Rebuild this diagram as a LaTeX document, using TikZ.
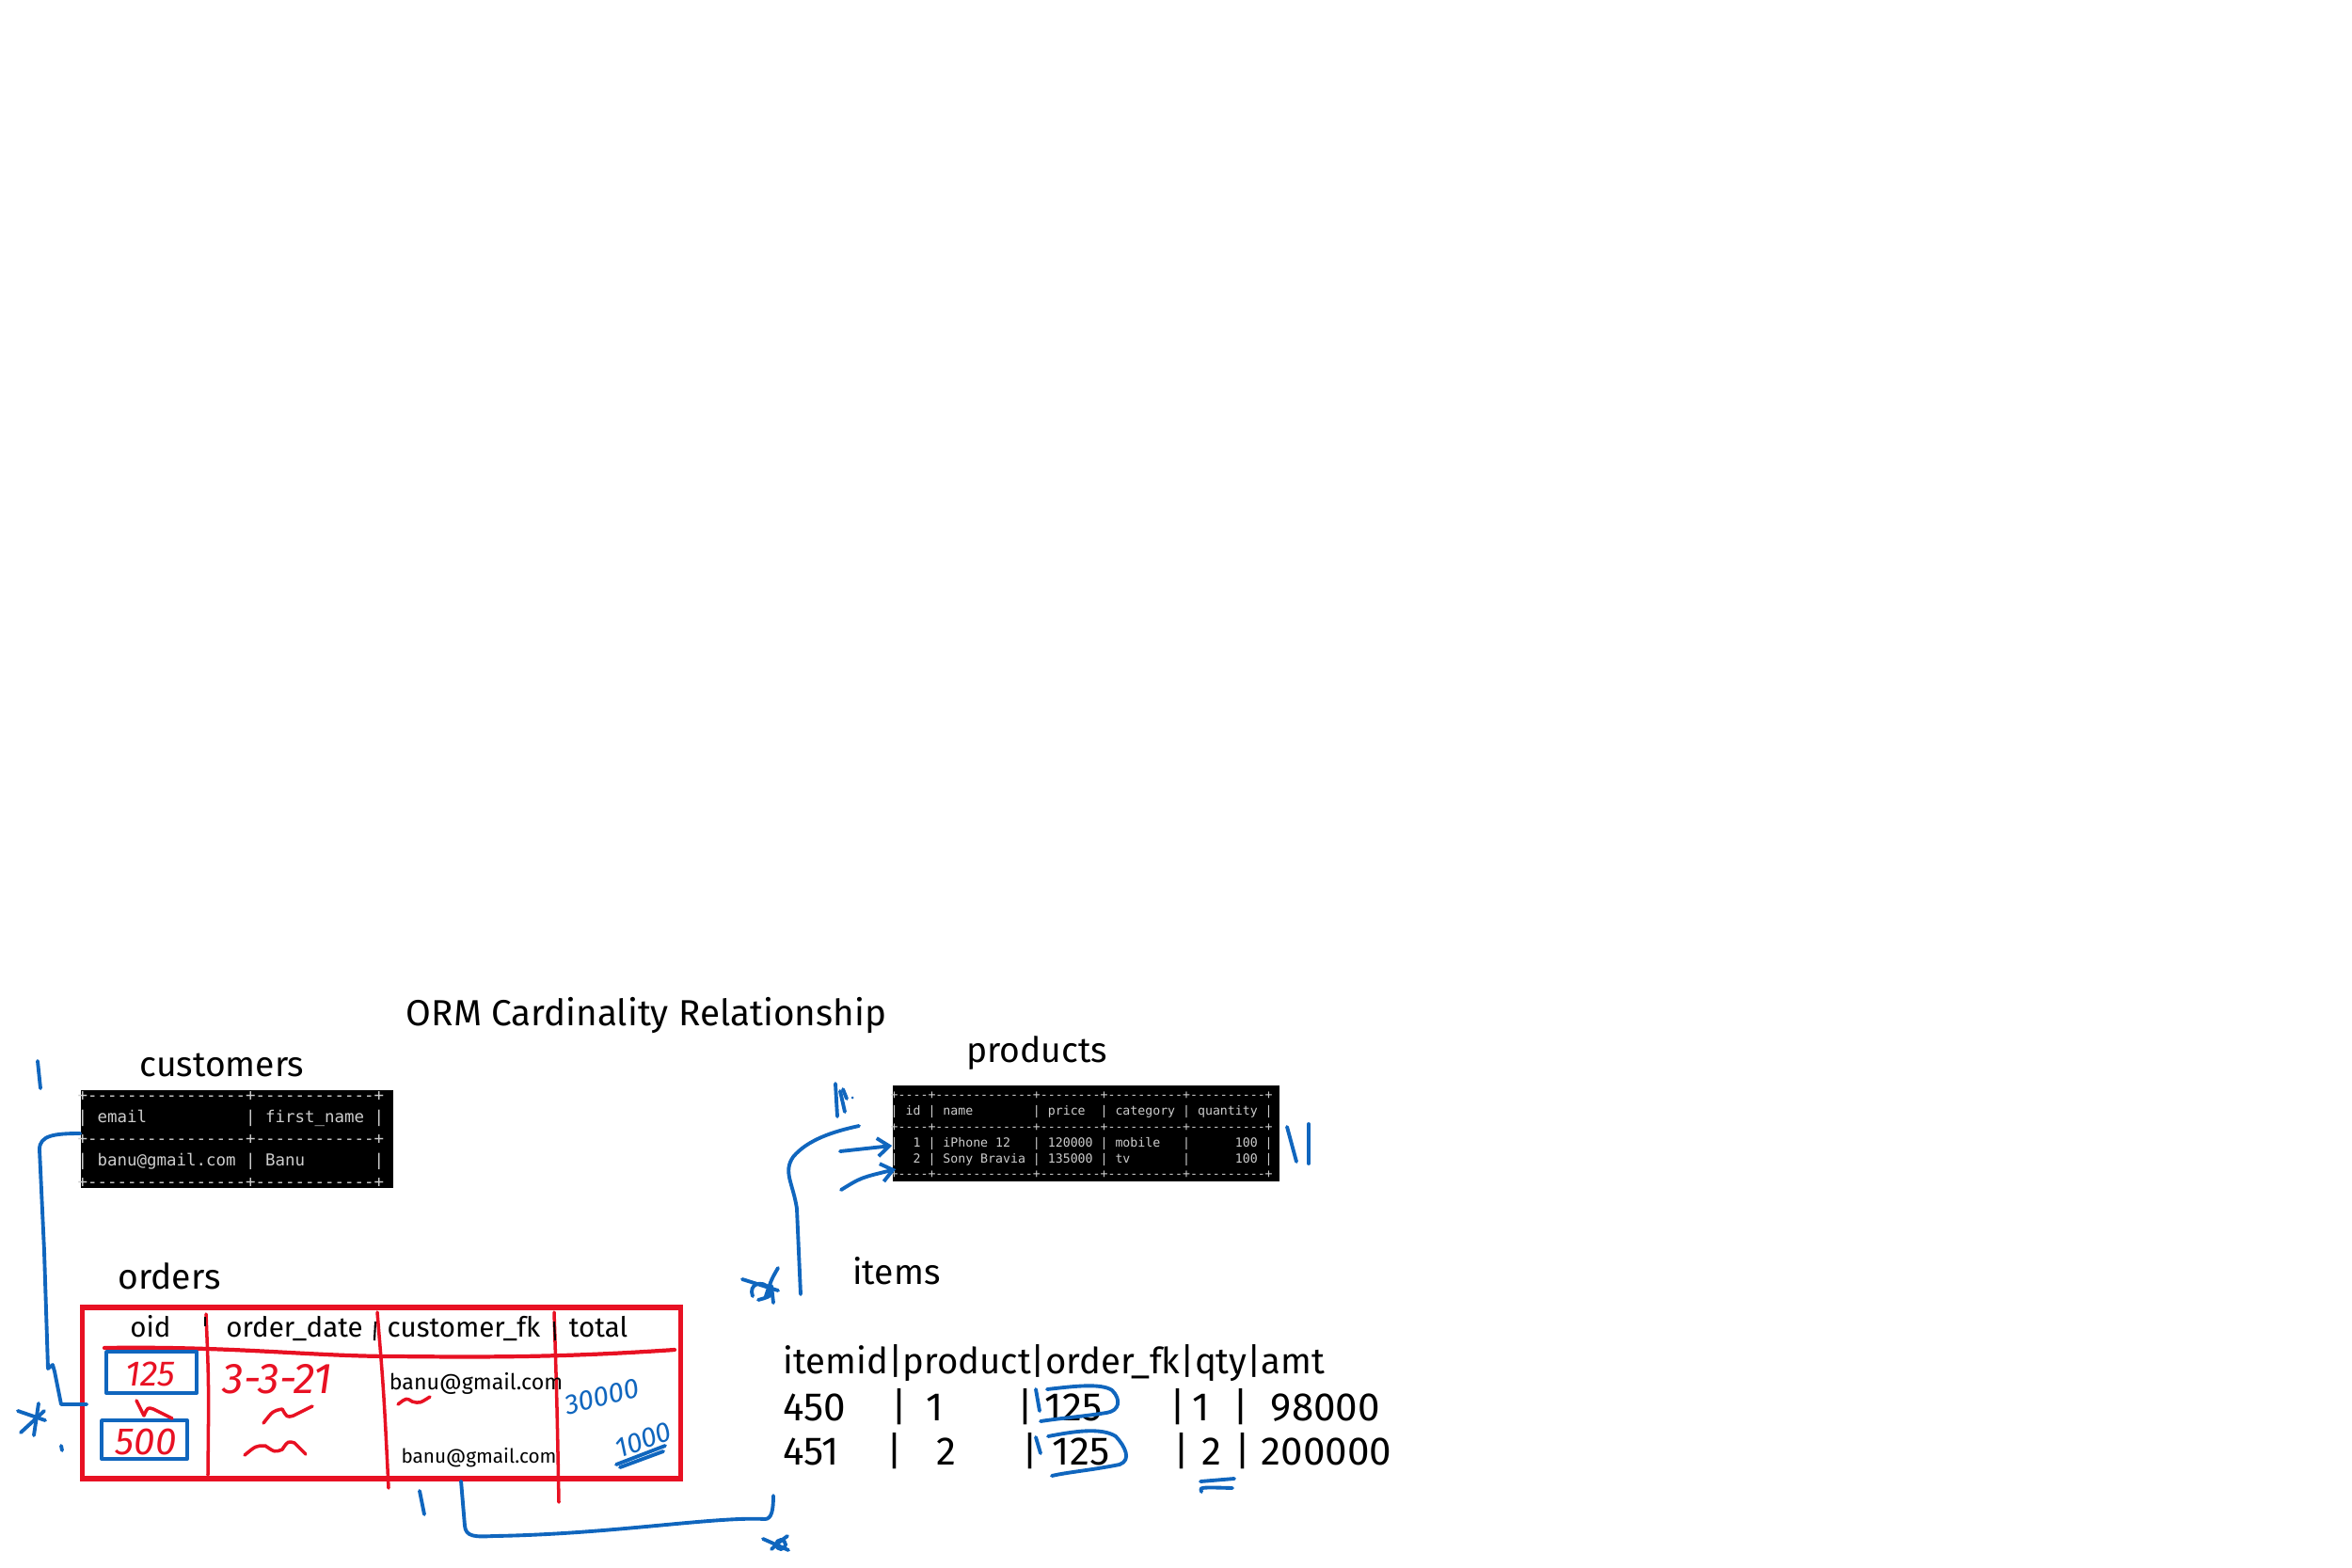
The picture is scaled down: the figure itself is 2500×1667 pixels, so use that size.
\documentclass[tikz,border=0pt]{standalone}
\usepackage{fontspec}
\setmonofont{DejaVu Sans Mono}
\newfontfamily\hand{Fira Sans}
\usetikzlibrary{arrows.meta,calc}
\definecolor{penblue}{RGB}{16,102,190}
\definecolor{inkred}{RGB}{232,17,35}
\definecolor{termgrey}{RGB}{205,205,205}
\newcommand{\hfs}[1]{\hand\fontsize{#1}{#1}\selectfont}
\begin{document}
\begin{tikzpicture}[x=0.01cm,y=-0.01cm,
  heading/.style={inner sep=0,anchor=base,font=\hfs{10.6}},
  colhead/.style={inner sep=0,anchor=base,font=\hfs{8.4}},
  cell/.style={inner sep=0,anchor=base,font=\hfs{12}},
  termtext/.style={inner sep=0,anchor=west,align=left,text=termgrey},
  termbox/.style={fill=black,draw=none,inner sep=0},
  redline/.style={draw=inkred,line width=1pt,line cap=round,line join=round},
  bluepen/.style={draw=penblue,line width=1.1pt,line cap=round,line join=round},
  redscrawl/.style={inner sep=0,text=inkred,font=\hfs{11.5}\itshape},
  bluescrawl/.style={inner sep=0,text=penblue,font=\hfs{8.4}\itshape},
  barb/.style={-{Straight Barb[length=3.5pt,width=5.5pt]}},
]
\useasboundingbox (0,0) rectangle (2500,1667);
\fill[white] (0,0) rectangle (2500,1667);

% ---------- title and headings ----------
\node[heading,font=\hfs{11}] (title) at (687,1090) {ORM Cardinality Relationship};
\node[heading] (custlbl) at (236,1144) {customers};
\node[heading] (ordlbl) at (180,1370) {orders};
\node[heading] (prodlbl) at (1102,1129) {products};
\node[heading] (itemlbl) at (953,1365) {items};

% ---------- customers terminal table ----------
\node[termbox,minimum width=3.32cm,minimum height=1.04cm] (cust) at (252,1211) {};
\node[termtext,font=\ttfamily\fontsize{4.96}{6.47}\selectfont] (custtxt) at (82,1211.5)
{+----------------+------------+\\
|~email~~~~~~~~~~|~first\_name~|\\
+----------------+------------+\\
|~banu@gmail.com~|~Banu~~~~~~~|\\
+----------------+------------+};

% ---------- products terminal table ----------
\node[termbox,minimum width=4.11cm,minimum height=1.02cm] (prod) at (1154.5,1205) {};
\node[termtext,font=\ttfamily\fontsize{3.76}{4.78}\selectfont] (prodtxt) at (946,1207)
{+----+-------------+--------+----------+----------+\\
|~id~|~name~~~~~~~~|~price~~|~category~|~quantity~|\\
+----+-------------+--------+----------+----------+\\
|~~1~|~iPhone~12~~~|~120000~|~mobile~~~|~~~~~~100~|\\
|~~2~|~Sony~Bravia~|~135000~|~tv~~~~~~~|~~~~~~100~|\\
+----+-------------+--------+----------+----------+};

% ---------- orders hand-drawn table ----------
\node[draw=inkred,line width=1.5pt,inner sep=0,minimum width=6.35cm,minimum height=1.82cm] (orders) at (405.5,1481) {};
\draw[redline] (219,1397) .. controls (222,1470) .. (221,1568);
\draw[redline] (401,1395) .. controls (408,1480) .. (413,1582);
\draw[redline] (589,1395) .. controls (592,1490) .. (594,1597);
\draw[redline,line width=1.2pt] (111,1433) .. controls (250,1431) and (330,1442) .. (420,1442)
  .. controls (520,1443) and (600,1443) .. (717,1435);

\node[colhead] (hoid) at (160,1421) {oid};
\node[colhead] (hdate) at (313,1421) {order\_date};
\node[colhead] (hcfk) at (493,1421) {customer\_fk};
\node[colhead] (htot) at (636,1421) {total};
\draw[black,line width=0.6pt] (218,1400) -- (218,1410);
\draw[black,line width=0.6pt] (399,1405) -- (398,1425);
\draw[black,line width=0.6pt] (589,1405) -- (590,1425);

\node[redscrawl,font=\hfs{10.7}\itshape] (r125) at (160,1461) {125};
\node[redscrawl] (r500) at (155,1533) {500};
\node[redscrawl,font=\hfs{13}\itshape] (rdate) at (295,1466) {3-3-21};
\draw[bluepen] (113,1437) rectangle (209,1481);
\draw[bluepen] (108,1510) rectangle (199,1551);
\draw[redline] (145,1489) -- (153,1505) .. controls (157,1496) .. (163,1498) -- (183,1508);
\draw[redline] (280,1513) .. controls (290,1500) .. (300,1498) .. controls (305,1507) .. (312,1505) -- (332,1495);
\draw[redline] (260,1547) .. controls (272,1537) .. (282,1537) .. controls (292,1544) .. (300,1541)
  .. controls (306,1532) .. (313,1534) -- (325,1546);
\draw[redline] (423,1493) .. controls (432,1486) .. (438,1490) .. controls (446,1492) .. (457,1485);

\node[inner sep=0,anchor=base,font=\hfs{6.6}] (mail1) at (506,1477) {banu@gmail.com};
\node[inner sep=0,anchor=base,font=\hfs{5.9}] (mail2) at (509,1555) {banu@gmail.com};

\node[bluescrawl,rotate=14] (b30) at (640,1485) {30000};
\node[bluescrawl,rotate=20] (b10) at (684,1531) {1000};
\draw[bluepen] (655,1557) -- (707,1537);
\draw[bluepen] (659,1560) -- (705,1543);

% ---------- items ----------
\node[inner sep=0,anchor=base west,font=\hfs{10.9}] (ihead) at (832,1460) {itemid|product|order\_fk|qty|amt};
\node[cell] (a1) at (866,1510) {450};
\node[cell] (a2) at (956,1510) {|};
\node[cell] (a3) at (994,1510) {1};
\node[cell] (a4) at (1090,1510) {|};
\node[cell] (a5) at (1141,1510) {125};
\node[cell] (a6) at (1252,1510) {|};
\node[cell] (a7) at (1277,1510) {1};
\node[cell] (a8) at (1319,1510) {|};
\node[cell] (a9) at (1409,1510) {98000};
\node[cell] (b1) at (862,1557) {451};
\node[cell] (b2) at (951,1557) {|};
\node[cell] (b3) at (1006,1557) {2};
\node[cell] (b4) at (1095,1557) {|};
\node[cell] (b5) at (1149,1557) {125};
\node[cell] (b6) at (1256,1557) {|};
\node[cell] (b7) at (1288,1557) {2};
\node[cell] (b8) at (1321,1557) {|};
\node[cell] (b9) at (1410,1557) {200000};

\draw[bluepen] (1101,1477) -- (1105,1500);
\draw[bluepen] (1113,1477) .. controls (1140,1474) and (1170,1470) .. (1182,1478)
  .. controls (1192,1488) and (1190,1500) .. (1176,1502) .. controls (1150,1506) and (1125,1508) .. (1106,1511);
\draw[bluepen] (1101,1528) -- (1106,1545);
\draw[bluepen] (1114,1527) .. controls (1140,1522) and (1170,1517) .. (1186,1527)
  .. controls (1196,1538) and (1203,1552) .. (1190,1557) .. controls (1160,1563) and (1135,1565) .. (1118,1569);
\draw[bluepen] (1276,1575) -- (1312,1572);
\draw[bluepen] (1277,1586) .. controls (1275,1581) .. (1310,1582);

% ---------- blue connectors and cardinality marks ----------
\draw[bluepen] ([yshift=0.06cm]cust.west) .. controls (58,1205) and (42,1207) .. (42,1222)
  -- (47,1330) -- (51,1455) -- (56,1451) -- (58,1458) -- (65,1493)
  -- ([xshift=0.07cm,yshift=-0.12cm]orders.west);
\draw[bluepen] (40,1128) -- (43,1157);
\draw[bluepen] (41,1492) -- (36,1526);
\draw[bluepen] (19,1500) -- (48,1510);
\draw[bluepen] (22,1523) -- (47,1500);
\draw[bluepen] (65,1537) -- (66,1542);

\coordinate (itemend) at (822,1590);
\draw[bluepen] ([xshift=0.845cm]orders.south) -- (494,1622) .. controls (495,1634) and (505,1634) .. (525,1633)
  .. controls (650,1631) and (760,1612) .. (813,1615) .. controls (820,1615) and (822,1606) .. (itemend);
\draw[bluepen] (446,1585) -- (451,1610);
\draw[bluepen] (811,1636) -- (838,1648);
\draw[bluepen] (837,1633) .. controls (830,1638) .. (820,1647);
\draw[bluepen] (830,1642) circle [radius=5];

\coordinate (itemtop) at (851,1376);
\draw[bluepen] (itemtop) -- (847,1285) .. controls (843,1258) and (832,1246) .. (843,1230)
  .. controls (858,1212) and (885,1203) .. (913,1197);
\draw[bluepen,barb] (893,1224) -- ([yshift=-0.13cm]prod.west);
\draw[bluepen,barb] (894,1265) .. controls (915,1252) .. ([xshift=0.04cm,yshift=-0.38cm]prod.west);
\draw[bluepen] (888,1152) -- (890,1187);
\draw[bluepen] (893,1160) -- (898,1182);
\draw[bluepen] (896,1158) -- (900,1168);
\fill[penblue] (906,1167) circle [radius=1.5];
\draw[bluepen] (1368,1198) -- (1378,1235);
\draw[bluepen] (1391,1195) -- (1391,1237);
\draw[bluepen] (789,1360) -- (827,1372);
\draw[bluepen] (827,1348) .. controls (820,1360) .. (814,1378);
\draw[bluepen] (800,1378) .. controls (795,1365) and (810,1360) .. (818,1370) .. controls (820,1378) .. (806,1382);
\draw[bluepen] (820,1367) -- (822,1385);
\end{tikzpicture}
\end{document}
